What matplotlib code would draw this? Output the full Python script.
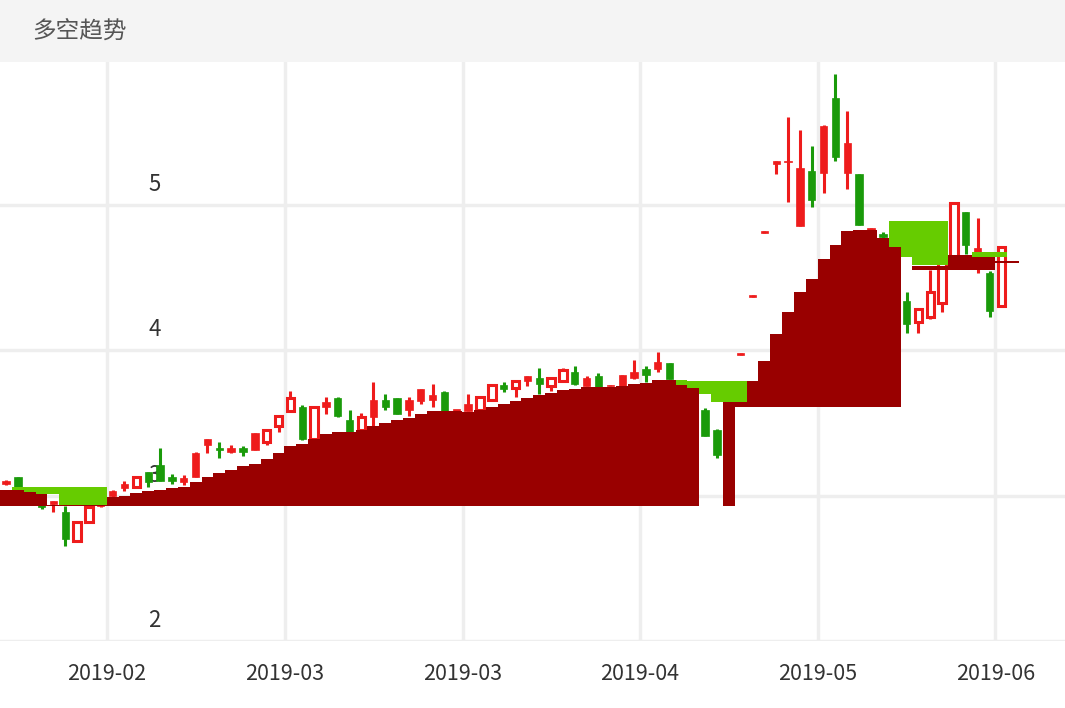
import numpy as np
import matplotlib
matplotlib.use("Agg")
import matplotlib.pyplot as plt

plt.rcParams['font.family'] = ['Noto Sans CJK SC', 'DejaVu Sans']

nan = np.nan
# candles: open, close, high, low (index = trading day)
opens = [3.08,3.13,3.06,2.93,2.94,2.89,2.69,2.82,2.93,3.00,3.05,3.06,3.16,3.21,3.13,3.09,3.13,3.35,3.33,3.30,
         3.33,3.31,3.37,3.48,3.58,3.61,3.39,3.61,3.67,3.52,3.45,3.54,3.66,3.67,3.59,3.65,3.66,3.71,3.58,3.58,
         3.59,3.66,3.76,3.74,3.79,3.81,3.75,3.79,3.85,3.75,3.82,3.75,3.75,3.81,3.87,3.87,3.91,3.78,3.72,3.59,
         3.45,3.35,3.967,4.365,4.805,5.28,5.29,4.85,5.23,5.22,5.73,5.22,5.21,4.82,4.80,4.75,4.34,4.19,4.23,4.32,
         4.64,4.95,4.67,4.53,4.30,nan]
closes = [3.10,3.04,3.05,2.92,2.96,2.70,2.82,2.92,2.94,3.03,3.08,3.13,3.09,3.10,3.10,3.12,3.29,3.39,3.31,3.33,
          3.30,3.43,3.45,3.55,3.67,3.39,3.61,3.64,3.55,3.44,3.54,3.66,3.61,3.56,3.66,3.73,3.69,3.58,3.585,3.63,
          3.68,3.76,3.73,3.79,3.82,3.77,3.81,3.86,3.77,3.81,3.74,3.76,3.83,3.85,3.83,3.92,3.80,3.76,3.65,3.41,
          3.28,3.61,3.977,4.375,4.815,5.30,5.30,5.25,5.03,5.54,5.33,5.42,4.86,4.84,4.78,4.72,4.18,4.28,4.40,4.61,
          5.01,4.72,4.70,4.27,4.71,nan]
highs = [3.11,3.13,3.06,2.93,2.96,2.93,2.82,2.92,2.94,3.04,3.10,3.13,3.16,3.33,3.15,3.14,3.30,3.39,3.37,3.35,
         3.34,3.43,3.45,3.55,3.72,3.62,3.61,3.68,3.68,3.59,3.57,3.78,3.70,3.67,3.68,3.73,3.77,3.72,3.59,3.70,
         3.68,3.76,3.78,3.79,3.82,3.88,3.81,3.88,3.89,3.82,3.84,3.76,3.83,3.93,3.89,3.99,3.91,3.79,3.74,3.60,
         3.46,3.61,3.977,4.375,4.815,5.30,5.60,5.51,5.40,5.55,5.90,5.64,5.21,4.84,4.81,4.76,4.40,4.29,4.55,4.61,
         5.01,4.95,4.91,4.54,4.71,nan]
lows = [3.07,3.03,3.05,2.91,2.89,2.65,2.69,2.82,2.92,2.98,3.03,3.06,3.06,3.10,3.08,3.07,3.13,3.29,3.26,3.29,
        3.27,3.31,3.35,3.44,3.58,3.38,3.39,3.56,3.54,3.44,3.45,3.48,3.59,3.56,3.55,3.63,3.61,3.58,3.57,3.58,
        3.59,3.66,3.71,3.68,3.75,3.70,3.72,3.79,3.76,3.75,3.74,3.75,3.75,3.80,3.78,3.85,3.80,3.74,3.63,3.41,
        3.26,3.35,3.967,4.365,4.805,5.21,5.02,4.85,4.98,5.08,5.30,5.11,4.86,4.82,4.77,4.70,4.12,4.12,4.21,4.26,
        4.64,4.66,4.53,4.23,4.30,nan]
hollow_days = [6,7,11,22,23,24,26,30,40,41,43,46,47,61,77,78,79,80,84]

# trend areas
red_base = [2.927]*62 + [3.607]*14 + [4.547]*8 + [4.595]*2
red_top = [3.037,3.037,3.023,3.010,2.934,2.934,2.934,2.934,2.934,
           2.989,3.00,3.016,3.03,3.04,3.05,3.06,3.09,3.128,3.153,3.176,3.20,3.22,3.25,3.29,3.34,3.353,3.387,3.42,
           3.44,3.44,3.45,3.478,3.50,3.517,3.536,3.559,3.58,3.58,3.58,3.575,3.586,3.609,3.627,3.65,3.673,3.689,
           3.708,3.725,3.735,3.746,3.746,3.746,3.753,3.767,3.776,3.797,3.797,3.76,3.737,
           nan,nan,3.64,3.64,
           3.79,3.924,4.108,4.264,4.40,4.485,4.627,4.723,4.815,4.824,4.824,4.77,4.707,
           nan,4.577,4.577,4.577,4.652,4.652,4.652,4.652,4.61,4.61]
green_bottom = [nan,3.037,3.023,3.010,3.010,2.934,2.934,2.934,2.934] + [nan]*48 + [3.76,3.737,3.696,3.64,3.64,3.64] \
               + [nan]*12 + [4.707,4.638,4.583,4.583,4.583,nan,nan,4.643,4.643,4.643,nan]
green_top = [nan,3.058,3.058,3.058,3.058,3.058,3.058,3.058,3.058] + [nan]*48 + [3.797,3.79,3.79,3.79,3.79,3.79] \
            + [nan]*12 + [4.89,4.89,4.89,4.89,4.89,nan,nan,4.677,4.677,4.677,nan]

x_ticks = [8.52, 23.54, 38.57, 53.5, 68.5, 83.5]
x_labels = ['2019-02', '2019-03', '2019-03', '2019-04', '2019-05', '2019-06']
y_ticks = [2, 3, 4, 5]

RED = '#EE1C1C'
GREEN = '#1A9A0A'
DARKRED = '#990000'
LIGHTGREEN = '#66CC00'

fig = plt.figure(figsize=(10.65, 7.08), dpi=100)
fig.patches.append(plt.Rectangle((0, 1 - 62/708), 1, 62/708, transform=fig.transFigure,
                                 facecolor='#F4F4F4', edgecolor='none', zorder=0))
fig.text(32/1065, 1 - 31/708, '多空趋势', fontsize=17, color='#555555', va='center', ha='left')

ax = fig.add_axes([0, (708-641)/708, 1, (641-62)/708])
ax.set_xlim(-0.506, 89.37)
ax.set_ylim(2, 5.98)
for s in ax.spines.values():
    s.set_visible(False)
ax.set_xticks(x_ticks)
ax.set_xticklabels(x_labels, fontsize=15.5, color='#333333')
ax.set_yticks(y_ticks)
ax.tick_params(axis='both', length=0)
ax.tick_params(axis='x', pad=16)
ax.set_yticklabels([])
ax.grid(True, color='#EEEEEE', linewidth=2.5, zorder=0)
ax.set_axisbelow(True)
for v in y_ticks:
    ax.text(12, v + 0.06, str(v), transform=ax.get_yaxis_transform() if False else ax.transData,
            fontsize=16, color='#333333', ha='left', va='bottom')

n = len(opens)
idx = np.arange(n)
o = np.array(opens); c = np.array(closes); h = np.array(highs); l = np.array(lows)
for i in idx:
    if np.isnan(o[i]):
        continue
    up = c[i] >= o[i]
    col = RED if up else GREEN
    lo_b, hi_b = min(o[i], c[i]), max(o[i], c[i])
    hgt = max(hi_b - lo_b, 0.012)
    ax.vlines(i, l[i], h[i], color=col, linewidth=2.2, zorder=2)
    if up and i in hollow_days:
        ax.bar(i, hgt, bottom=lo_b, width=0.62, facecolor='white', edgecolor=col, linewidth=2.2, zorder=3)
    else:
        ax.bar(i, hgt, bottom=lo_b, width=0.62, facecolor=col, edgecolor=col, linewidth=0.5, zorder=3)

rb = np.array(red_base); rt = np.array(red_top)
ax.bar(idx, rt - rb, bottom=rb, width=1.0, color=DARKRED, linewidth=0, zorder=4)
gb = np.array(green_bottom); gt = np.array(green_top)
ax.bar(idx, gt - gb, bottom=gb, width=1.0, color=LIGHTGREEN, linewidth=0, zorder=4)

fig.savefig('out.png', dpi=100)
